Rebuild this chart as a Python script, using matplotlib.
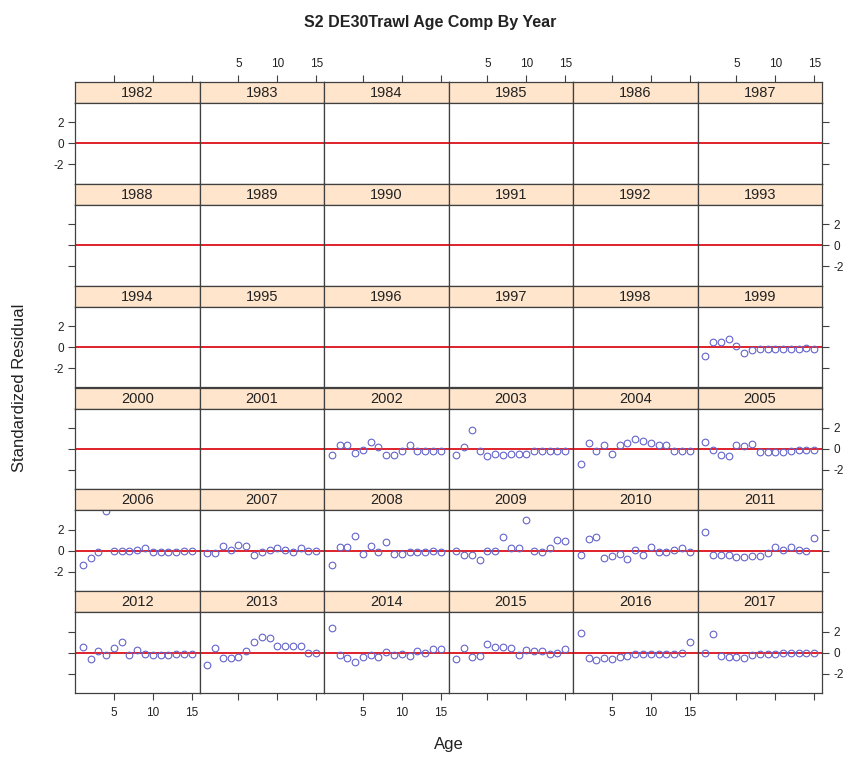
import numpy as np
import matplotlib.pyplot as plt

plt.rcParams['font.family'] = ['Liberation Sans', 'DejaVu Sans']

# ages 1..15, one panel per year 1982-2017
ages = np.arange(1, 16)
years = list(range(1982, 2018))

r1999 = [-0.89, 0.48, 0.48, 0.80, 0.06, -0.57, -0.25, -0.20, -0.20, -0.20, -0.20, -0.20, -0.15, -0.10, -0.15]
r2002 = [-0.60, 0.35, 0.35, -0.38, -0.06, 0.67, 0.19, -0.54, -0.54, -0.22, 0.41, -0.22, -0.22, -0.22, -0.22]
r2003 = [-0.54, 0.19, 1.84, -0.22, -0.70, -0.44, -0.60, -0.44, -0.44, -0.44, -0.22, -0.22, -0.22, -0.22, -0.22]
r2004 = [-1.40, 0.57, -0.22, 0.35, -0.44, 0.35, 0.57, 0.98, 0.73, 0.57, 0.35, 0.35, -0.22, -0.22, -0.22]
r2005 = [0.67, -0.06, -0.54, -0.70, 0.35, 0.25, 0.48, -0.32, -0.32, -0.32, -0.32, -0.22, -0.06, -0.06, -0.13]
r2006 = [-1.33, -0.70, -0.13, 3.75, -0.06, -0.06, -0.06, 0.10, 0.25, -0.13, -0.13, -0.13, -0.13, -0.06, -0.06]
r2007 = [-0.22, -0.22, 0.41, 0.10, 0.57, 0.41, -0.44, -0.13, 0.10, 0.25, 0.10, -0.13, 0.25, -0.06, -0.06]
r2008 = [-1.40, 0.35, 0.35, 1.37, -0.32, 0.41, -0.16, 0.83, -0.32, -0.32, -0.16, -0.16, -0.13, -0.06, -0.13]
r2009 = [0.00, -0.44, -0.44, -0.92, -0.06, -0.06, 1.30, 0.25, 0.25, 2.89, -0.06, -0.13, 0.25, 1.05, 0.89]
r2010 = [-0.44, 1.11, 1.30, -0.70, -0.54, -0.32, -0.76, 0.10, -0.44, 0.35, -0.13, -0.13, 0.10, 0.25, -0.13]
r2011 = [1.78, -0.38, -0.38, -0.38, -0.63, -0.63, -0.54, -0.54, -0.22, 0.32, 0.03, 0.32, 0.03, -0.06, 1.20]
r2012 = [0.51, -0.63, 0.16, -0.22, 0.41, 0.98, -0.22, 0.25, -0.16, -0.22, -0.22, -0.22, -0.13, -0.13, -0.13]
r2013 = [-1.17, 0.41, -0.54, -0.54, -0.44, 0.16, 0.98, 1.46, 1.37, 0.67, 0.67, 0.67, 0.67, -0.06, -0.06]
r2014 = [2.32, -0.22, -0.54, -0.86, -0.44, -0.22, -0.38, 0.03, -0.22, -0.16, -0.29, 0.16, 0.00, 0.32, 0.32]
r2015 = [-0.63, 0.41, -0.44, -0.32, 0.83, 0.51, 0.51, 0.41, -0.22, 0.25, 0.19, 0.19, -0.13, -0.06, 0.32]
r2016 = [1.90, -0.48, -0.70, -0.54, -0.63, -0.44, -0.32, -0.13, -0.13, -0.13, -0.13, -0.13, -0.13, 0.00, 1.05]
r2017 = [0.00, 1.75, -0.32, -0.38, -0.38, -0.54, -0.22, -0.13, -0.13, -0.13, -0.06, -0.06, 0.00, 0.00, 0.00]

resid = {1999: r1999, 2002: r2002, 2003: r2003, 2004: r2004, 2005: r2005,
         2006: r2006, 2007: r2007, 2008: r2008, 2009: r2009, 2010: r2010,
         2011: r2011, 2012: r2012, 2013: r2013, 2014: r2014, 2015: r2015,
         2016: r2016, 2017: r2017}

W, H = 855, 761
fig = plt.figure(figsize=(W / 100, H / 100), dpi=100)

x0, x1, y0, y1 = 75, 822, 82, 693
ncol, nrow = 6, 6
pw = (x1 - x0) / ncol
ph = (y1 - y0) / nrow
sh = 21
edge = '#404040'
txt = '#222222'
xlim = (0, 16)
ylim = (-3.86, 3.86)

for k, yr in enumerate(years):
    r, c = divmod(k, ncol)
    left = x0 + c * pw
    top = y0 + r * ph
    sax = fig.add_axes([left / W, 1 - (top + sh) / H, pw / W, sh / H])
    ax = fig.add_axes([left / W, 1 - (top + ph) / H, pw / W, (ph - sh) / H])

    sax.set_facecolor('#ffe5cc')
    sax.set_xlim(*xlim)
    sax.set_ylim(0, 1)
    sax.text(np.mean(xlim), 0.47, str(yr), ha='center', va='center', fontsize=10.5, color=txt)
    sax.set_yticks([])
    for s in sax.spines.values():
        s.set_color(edge)
        s.set_linewidth(0.9)
    if r == 0:
        sax.xaxis.set_ticks_position('top')
        sax.set_xticks([5, 10, 15])
        sax.tick_params(axis='x', direction='out', length=5, width=0.8, color=edge,
                        labelsize=8.5, pad=4, labeltop=(c % 2 == 1), labelcolor=txt)
    else:
        sax.set_xticks([])

    ax.axhline(0, color='#e0202a', lw=1.4, zorder=1)
    if yr in resid:
        ax.plot(ages, resid[yr], 'o', mfc='none', mec='#6464cc', ms=4.8, mew=0.8, zorder=2)
    ax.set_xlim(*xlim)
    ax.set_ylim(*ylim)
    for s in ax.spines.values():
        s.set_color(edge)
        s.set_linewidth(0.9)

    if r == nrow - 1:
        ax.set_xticks([5, 10, 15])
        ax.tick_params(axis='x', direction='out', length=5, width=0.8, color=edge,
                       labelsize=8.5, pad=5, labelbottom=(c % 2 == 0), labelcolor=txt)
    else:
        ax.set_xticks([])

    if c == 0 or c == ncol - 1:
        ax.set_yticks([-2, 0, 2])
        ax.set_yticklabels(['-2', '0', '2'])
        if c == 0:
            ax.tick_params(axis='y', left=True, right=False, labelleft=(r % 2 == 0),
                           labelright=False)
        else:
            ax.tick_params(axis='y', left=False, right=True, labelleft=False,
                           labelright=(r % 2 == 1))
        ax.tick_params(axis='y', direction='out', length=5, width=0.8, color=edge,
                       labelsize=8.5, pad=3, labelcolor=txt)
    else:
        ax.set_yticks([])

fig.text(430 / W, 1 - 22 / H, 'S2 DE30Trawl Age Comp By Year', ha='center', va='center',
         fontsize=11.5, fontweight='bold', color=txt)
fig.text((x0 + x1) / 2 / W, 1 - 745 / H, 'Age', ha='center', va='center', fontsize=12,
         color=txt)
fig.text(19 / W, 1 - (y0 + y1) / 2 / H, 'Standardized Residual', ha='center', va='center',
         rotation=90, fontsize=12, color=txt)

fig.savefig('out.png', dpi=100)
